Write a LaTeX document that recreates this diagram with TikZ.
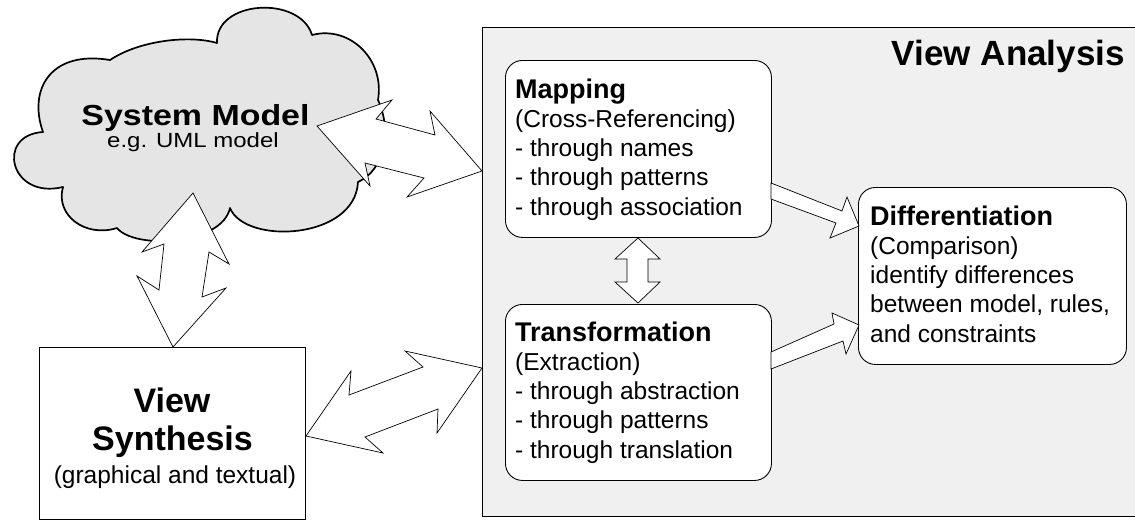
\documentclass[tikz,border=0pt]{standalone}
\usepackage{fontspec}
\setmainfont{Liberation Sans}
\usepackage{graphicx}
\definecolor{cloudgray}{RGB}{229,229,229}
\definecolor{panelgray}{RGB}{240,240,240}
\begin{document}
\begin{tikzpicture}[x=1pt,y=-1pt,
  box/.style={draw=black, fill=white, rounded corners=17pt, line width=0.9pt, inner sep=0pt, anchor=north west},
  arr/.style={draw=black, fill=white, line width=0.7pt, line join=miter},
  txt/.style={inner sep=0pt, anchor=base west, font=\fontsize{24.5}{29.25}\selectfont},
  cloudline/.style={draw=black, fill=cloudgray, line width=1.7pt, line join=round}]
\useasboundingbox (0,0) rectangle (1135,520);
% panel
\node[draw=black, fill=panelgray, line width=0.9pt, inner sep=0pt, anchor=north west,
      minimum width=680pt, minimum height=489pt] (panel) at (482,27) {};
\node[inner sep=0pt, anchor=base east, font=\fontsize{35}{40}\selectfont\bfseries] (vatitle) at (1125,65) {View Analysis};
% cloud
\path[cloudline] (43,132)
  .. controls (28,90) and (50,50) .. (110,60)
  .. controls (140,40) and (190,35) .. (217,43)
  .. controls (215,0) and (300,-5) .. (312,35)
  .. controls (350,25) and (385,60) .. (378,100)
  .. controls (392,130) and (385,170) .. (358,182)
  .. controls (355,240) and (245,245) .. (230,208)
  .. controls (222,245) and (135,250) .. (117,228)
  .. controls (85,238) and (55,215) .. (63,187)
  .. controls (10,200) and (-5,135) .. (43,132) -- cycle;
\node[inner sep=0pt, anchor=base] (smtitle) at (195.5,125) {\scalebox{1.17}[1]{\fontsize{29}{30}\selectfont\bfseries System Model}};
\node[inner sep=0pt, anchor=base] (smsub) at (193,147) {\scalebox{1.17}[1]{\fontsize{20.5}{22}\selectfont e.g. UML model}};
% view synthesis
\node[draw=black, fill=white, line width=0.9pt, inner sep=0pt, anchor=north west,
      minimum width=266pt, minimum height=172pt] (vs) at (39,347) {};
\node[inner sep=0pt, anchor=base, font=\fontsize{34}{38}\selectfont\bfseries] (vsa) at (172,412) {View};
\node[inner sep=0pt, anchor=base, font=\fontsize{34}{38}\selectfont\bfseries] (vsb) at (172.5,450) {Synthesis};
\node[inner sep=0pt, anchor=base, font=\fontsize{24.5}{29}\selectfont] (vsc) at (175,483) {(graphical and textual)};
% boxes
\node[box, minimum width=266pt, minimum height=177pt] (map) at (505,60) {};
\node[txt] (maptxt) at (515,98) {\vtop{\hbox{\fontsize{27}{30}\selectfont\bfseries Mapping}\hbox{(Cross-Referencing)}\hbox{- through names}\hbox{- through patterns}\hbox{- through association}}};
\node[box, minimum width=266pt, minimum height=176pt] (tra) at (505,304) {};
\node[txt] (tratxt) at (515,341) {\vtop{\hbox{\fontsize{27}{30}\selectfont\bfseries Transformation}\hbox{(Extraction)}\hbox{- through abstraction}\hbox{- through patterns}\hbox{- through translation}}};
\node[box, minimum width=268pt, minimum height=177pt] (dif) at (858,187) {};
\node[txt] (diftxt) at (870,225) {\vtop{\hbox{\fontsize{27}{30}\selectfont\bfseries Differentiation}\hbox{(Comparison)}\hbox{identify differences}\hbox{between model, rules,}\hbox{and constraints}}};
% lightning arrows
\path[arr] (317,126) -- (392,100) -- (376,119) -- (435,135) -- (430,111) -- (482,171)
  -- (407,197) -- (424,178) -- (365,163) -- (370,186) -- cycle;
\path[arr] (193,193) -- (229,264) -- (209,252) -- (202,297) -- (226,288) -- (173,347)
  -- (137,276) -- (159,290) -- (164,244) -- (142,252) -- cycle;
\path[arr] (306,436) -- (351,371) -- (349,395) -- (423,367) -- (405,351) -- (482,368)
  -- (437,433) -- (438,409) -- (365,437) -- (383,453) -- cycle;
% block arrows
\path[arr] (638,238) -- (660,259) -- (648,259) -- (648,282) -- (660,282) -- (638,303)
  -- (615,282) -- (627,282) -- (627,259) -- (615,259) -- cycle;
\path[arr] (771,183) -- (842,211) -- (847,197) -- (859,226) -- (830,238) -- (836,223) -- (771,199) -- cycle;
\path[arr] (771,352) -- (834,324) -- (832,313) -- (859,325) -- (846,354) -- (843,341) -- (771,369) -- cycle;
\end{tikzpicture}
\end{document}
